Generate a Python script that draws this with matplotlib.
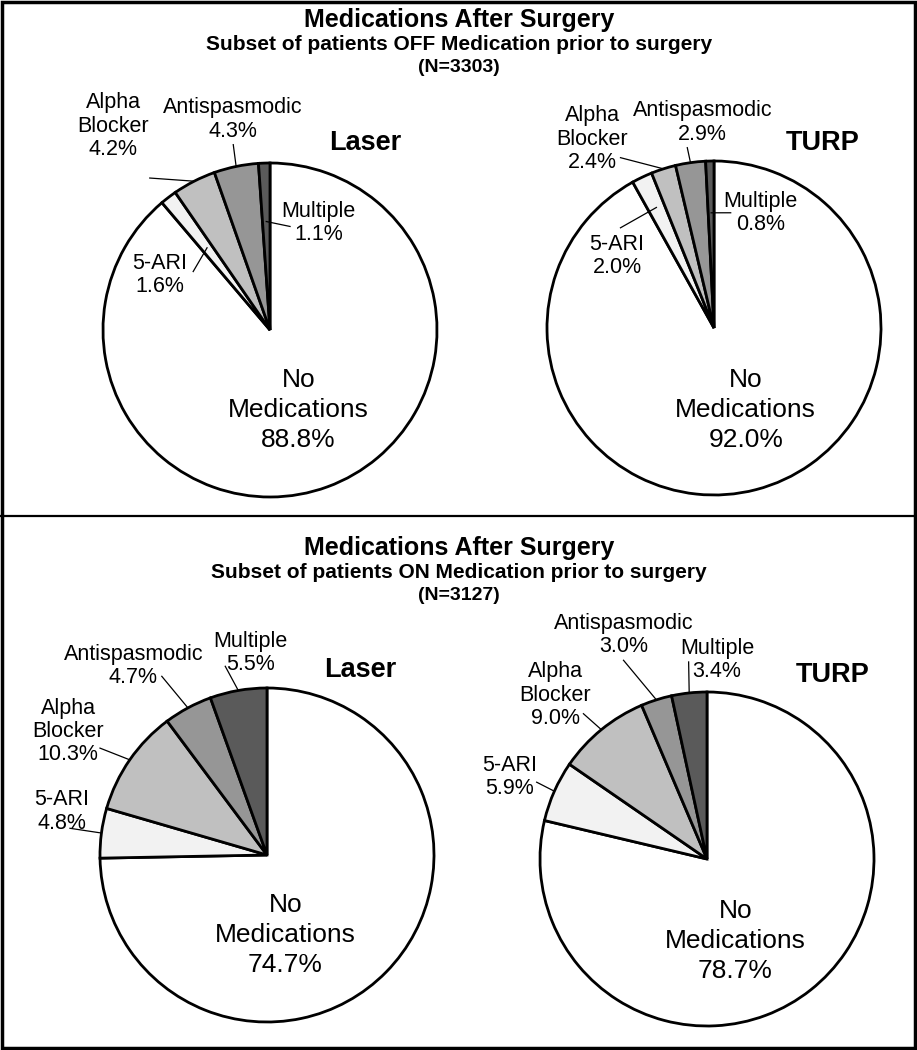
import numpy as np
import matplotlib as mpl
mpl.use('Agg')
import matplotlib.pyplot as plt
from matplotlib.lines import Line2D
from matplotlib.patches import Rectangle

W, H = 917, 1050
R = 167  # pie radius in pixels

# Data
categories = ['No\nMedications', '5-ARI', 'Alpha\nBlocker', 'Antispasmodic', 'Multiple']
off_laser = [88.8, 1.6, 4.2, 4.3, 1.1]
off_turp = [92.0, 2.0, 2.4, 2.9, 0.8]
on_laser = [74.7, 4.8, 10.3, 4.7, 5.5]
on_turp = [78.7, 5.9, 9.0, 3.0, 3.4]
colors = ['#ffffff', '#f2f2f2', '#c0c0c0', '#969696', '#5a5a5a']

panel_titles = ['Medications After Surgery', 'Medications After Surgery']
panel_subtitles = ['Subset of patients OFF Medication prior to surgery',
                   'Subset of patients ON Medication prior to surgery']
panel_n = ['(N=3303)', '(N=3127)']

sans = ['Liberation Sans', 'DejaVu Sans']

# layout for each pie: center (px from top-left), name position,
# label positions, leader start points, leader anchor radius (units of R)
pies = [
    dict(vals=off_laser, name='Laser', c=(270, 330), name_xy=(0.57, 1.12),
         lab=[(0.17, -0.48), (-0.66, 0.33), (-0.94, 1.22), (-0.22, 1.26), (0.29, 0.64)],
         lead=[None, (-0.46, 0.35), (-0.72, 0.91), (-0.22, 1.11), (0.12, 0.62)],
         rr=[None, 0.62, 1.0, 1.0, 0.65]),
    dict(vals=off_turp, name='TURP', c=(714, 328), name_xy=(0.65, 1.11),
         lab=[(0.19, -0.49), (-0.58, 0.43), (-0.73, 1.13), (-0.07, 1.23), (0.28, 0.69)],
         lead=[None, (-0.56, 0.60), (-0.56, 1.02), (-0.16, 1.08), (0.10, 0.69)],
         rr=[None, 0.8, 1.0, 1.0, 0.69]),
    dict(vals=on_laser, name='Laser', c=(267, 855), name_xy=(0.56, 1.11),
         lab=[(0.11, -0.48), (-1.23, 0.26), (-1.19, 0.74), (-0.80, 1.13), (-0.10, 1.21)],
         lead=[None, (-1.18, 0.16), (-1.0, 0.64), (-0.63, 1.07), (-0.25, 1.13)],
         rr=[None, 1.0, 1.0, 1.0, 1.0]),
    dict(vals=on_turp, name='TURP', c=(707, 859), name_xy=(0.75, 1.10),
         lab=[(0.17, -0.49), (-1.18, 0.49), (-0.91, 0.98), (-0.50, 1.34), (0.06, 1.19)],
         lead=[None, (-1.02, 0.46), (-0.74, 0.87), (-0.50, 1.19), (-0.11, 1.18)],
         rr=[None, 1.0, 1.0, 1.0, 1.0]),
]

fig = plt.figure(figsize=(W / 100, H / 100), dpi=100)
fig.patch.set_facecolor('white')

xl = (-1.6, 1.6)
yl = (-1.1, 1.6)

for p in pies:
    cx, cy = p['c']
    left = cx + xl[0] * R
    bottom = (H - cy) + yl[0] * R
    ax = fig.add_axes([left / W, bottom / H, (xl[1] - xl[0]) * R / W, (yl[1] - yl[0]) * R / H])
    ax.patch.set_alpha(0)

    wedges, _ = ax.pie(p['vals'], colors=colors, startangle=90, counterclock=False,
                       radius=1, center=(0, 0), frame=True,
                       wedgeprops=dict(edgecolor='black', linewidth=2))
    ax.set_xlim(*xl)
    ax.set_ylim(*yl)
    ax.axis('off')

    for i, (cat, v) in enumerate(zip(categories, p['vals'])):
        tx, ty = p['lab'][i]
        label = '{}\n{:.1f}%'.format(cat, v)
        if i == 0:
            ax.text(tx, ty, label, ha='center', va='center', fontsize=19,
                    family=sans, linespacing=1.3)
            continue
        ax.text(tx, ty, label, ha='center', va='center', fontsize=15.5,
                family=sans, linespacing=1.15, clip_on=False)
        w = wedges[i]
        mid = np.deg2rad((w.theta1 + w.theta2) / 2)
        ax_, ay_ = p['rr'][i] * np.cos(mid), p['rr'][i] * np.sin(mid)
        sx, sy = p['lead'][i]
        ax.plot([sx, ax_], [sy, ay_], color='black', lw=0.9, clip_on=False, zorder=5)

    nx, ny = p['name_xy']
    ax.text(nx, ny, p['name'], ha='center', va='center', fontsize=19.5,
            fontweight='bold', family=sans)

# panel titles
for k, y0 in enumerate([20, 548]):
    fig.text(459 / W, 1 - y0 / H, panel_titles[k], ha='center', va='center',
             fontsize=18, fontweight='bold', family=sans)
    fig.text(459 / W, 1 - (y0 + 24) / H, panel_subtitles[k], ha='center', va='center',
             fontsize=15, fontweight='bold', family=sans)
    fig.text(459 / W, 1 - (y0 + 47) / H, panel_n[k], ha='center', va='center',
             fontsize=14, fontweight='bold', family=sans)

# frame and divider
fig.add_artist(Rectangle((2 / W, 2 / H), 1 - 4 / W, 1 - 4 / H, transform=fig.transFigure,
                         fill=False, edgecolor='black', linewidth=2.5))
fig.add_artist(Line2D([0, 1], [1 - 516 / H, 1 - 516 / H], transform=fig.transFigure,
                      color='black', linewidth=1.6))

fig.savefig('out.png', dpi=100)
